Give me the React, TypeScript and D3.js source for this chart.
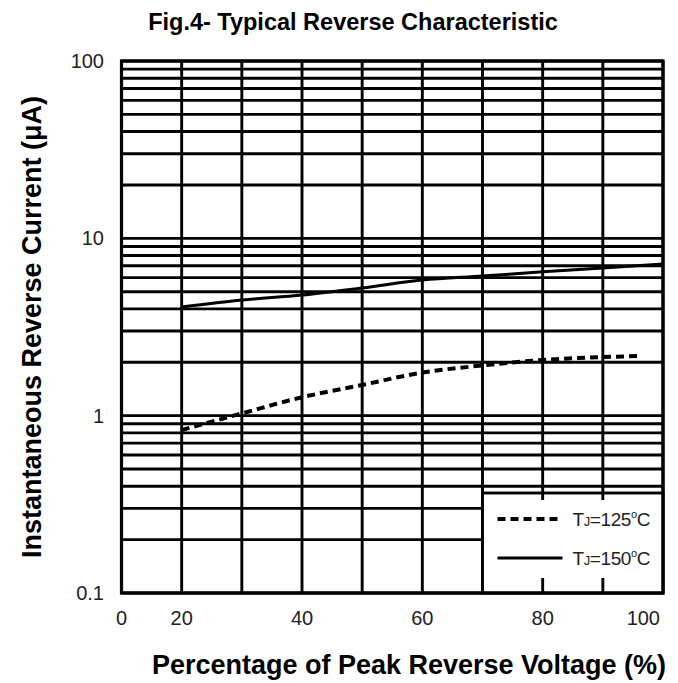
import React from "react";
import * as d3 from "d3";

const W = 678;
const H = 683;

// x grid values (chart is labelled oddly: left edge labelled "0")
const xGrid = [10, 20, 30, 40, 50, 60, 70, 80, 90, 100];
const xTickValues = [10, 20, 40, 60, 80, 100];
const xTickLabels = ["0", "20", "40", "60", "80", "100"];

const yTickValues = [0.1, 1, 10, 100];
const yTickLabels = ["0.1", "1", "10", "100"];

// Series
const xs150 = [20, 30, 40, 50, 60, 70, 80, 90, 100];
const ys150 = [4.1, 4.49, 4.79, 5.25, 5.82, 6.13, 6.48, 6.8, 7.17];

const xs125 = [20, 30, 40, 50, 60, 70, 80, 90, 96];
const ys125 = [0.83, 1.03, 1.27, 1.49, 1.75, 1.92, 2.06, 2.14, 2.17];

const seriesLabels = ["125", "150"];

const margin = { left: 121.5, right: W - 663, top: 61, bottom: H - 593 };

export default function App() {
  const x = d3.scaleLinear().domain([10, 100]).range([margin.left, W - margin.right]);
  const y = d3.scaleLog().domain([0.1, 100]).range([H - margin.bottom, margin.top]);

  const yGrid: number[] = [];
  for (let e = -1; e < 2; e++) {
    for (let m = 1; m <= 9; m++) yGrid.push(m * Math.pow(10, e));
  }
  yGrid.push(100);

  const line = d3
    .line<[number, number]>()
    .x((d) => x(d[0]))
    .y((d) => y(d[1]))
    .curve(d3.curveMonotoneX);

  const d150 = line(xs150.map((v, i) => [v, ys150[i]] as [number, number])) || "";
  const d125 = line(xs125.map((v, i) => [v, ys125[i]] as [number, number])) || "";

  const x0 = x(10);
  const x1 = x(100);
  const yb = y(0.1);
  const yt = y(100);

  const legX = x(70);
  const legY = yb - 100;
  const legW = x1 - legX;
  const legH = 100;

  const font = "'Liberation Sans', Arial, sans-serif";
  const gridW = 2.9;

  return (
    <svg
      width={W}
      height={H}
      style={{ position: "absolute", left: 0, top: 0, background: "#fff" }}
      fontFamily={font}
    >
      <rect x={0} y={0} width={W} height={H} fill="#fff" />
      <text x={353} y={30} textAnchor="middle" fontSize={23.5} fontWeight="bold" fill="#000">
        Fig.4- Typical Reverse Characteristic
      </text>

      {/* grid */}
      <g stroke="#000" strokeWidth={gridW}>
        {yGrid.map((v, i) => (
          <line key={"h" + i} x1={x0} x2={x1} y1={y(v)} y2={y(v)} />
        ))}
        {xGrid.map((v, i) => (
          <line key={"v" + i} x1={x(v)} x2={x(v)} y1={yt} y2={yb} />
        ))}
      </g>

      {/* curves */}
      <path d={d150} fill="none" stroke="#000" strokeWidth={3} />
      <path d={d125} fill="none" stroke="#000" strokeWidth={4} strokeDasharray="8,5" />

      {/* legend */}
      <rect x={legX} y={legY} width={legW} height={legH} fill="#fff" stroke="#000" strokeWidth={gridW} />
      <g stroke="#000" strokeWidth={gridW}>
        {[80, 90].map((v) => (
          <g key={"st" + v}>
            <line x1={x(v)} x2={x(v)} y1={legY} y2={legY + 7} />
            <line x1={x(v)} x2={x(v)} y1={yb - 15} y2={yb} />
          </g>
        ))}
      </g>
      <rect x={x0} y={yt} width={x1 - x0} height={yb - yt} fill="none" stroke="#000" strokeWidth={3.2} />
      {seriesLabels.map((t, i) => {
        const ly = legY + 26 + i * 39;
        return (
          <g key={"lg" + i}>
            <line
              x1={legX + 15}
              x2={legX + 80}
              y1={ly}
              y2={ly}
              stroke="#000"
              strokeWidth={i === 0 ? 4 : 3}
              strokeDasharray={i === 0 ? "8,5" : undefined}
            />
            <text x={legX + 90} y={ly + 7} fontSize={19} fill="#222" letterSpacing={-0.4}>
              T<tspan fontSize={13}>J</tspan>=1{t.slice(1)}
              <tspan fontSize={11} dy={-8}>o</tspan>
              <tspan dy={8}>C</tspan>
            </text>
          </g>
        );
      })}

      {/* y tick labels */}
      {yTickValues.map((v, i) => (
        <text key={"yt" + i} x={104} y={y(v) + 7} textAnchor="end" fontSize={20} fill="#222">
          {yTickLabels[i]}
        </text>
      ))}
      {/* x tick labels */}
      {xTickValues.map((v, i) => {
        const last = i === xTickValues.length - 1;
        return (
          <text
            key={"xt" + i}
            x={last ? x(v) - 3 : x(v)}
            y={625}
            textAnchor={last ? "end" : "middle"}
            fontSize={20}
            fill="#222"
          >
            {xTickLabels[i]}
          </text>
        );
      })}

      <text x={409} y={674} textAnchor="middle" fontSize={27} fontWeight="bold" fill="#000">
        Percentage of Peak Reverse Voltage (%)
      </text>
      <text
        transform={`translate(41, ${(yt + yb) / 2}) rotate(-90)`}
        textAnchor="middle"
        fontSize={27}
        fontWeight="bold"
        fill="#000"
      >
        Instantaneous Reverse Current (μA)
      </text>
    </svg>
  );
}
